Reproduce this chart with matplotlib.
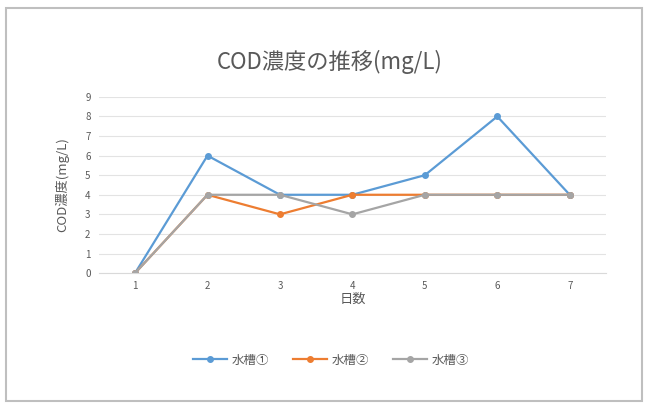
import matplotlib.pyplot as plt
from matplotlib.patches import Rectangle

plt.rcParams['font.family'] = ['Noto Sans CJK JP', 'DejaVu Sans']

days = [1, 2, 3, 4, 5, 6, 7]
tank1 = [0, 6, 4, 4, 5, 8, 4]
tank2 = [0, 4, 3, 4, 4, 4, 4]
tank3 = [0, 4, 4, 3, 4, 4, 4]
series_names = ['水槽①', '水槽②', '水槽③']
colors = ['#5B9BD5', '#ED7D31', '#A5A5A5']

text_gray = '#595959'

fig = plt.figure(figsize=(6.46, 4.07), dpi=100)
ax = fig.add_axes([0.153, 0.329, 0.785, 0.433])

# outer chart frame
frame = Rectangle((0.010, 0.015), 0.984, 0.965, transform=fig.transFigure,
                  fill=False, edgecolor='#BFBFBF', linewidth=1.5)
fig.patches.append(frame)

for vals, name, c in zip([tank1, tank2, tank3], series_names, colors):
    ax.plot(days, vals, color=c, linewidth=1.6, marker='o', markersize=4,
            label=name)

ax.set_xlim(0.5, 7.5)
ax.set_ylim(0, 9)
ax.set_xticks(days)
ax.set_yticks(range(0, 10))
ax.grid(axis='y', color='#E3E3E3', linewidth=0.8)
ax.set_axisbelow(True)
for side in ['top', 'right', 'left']:
    ax.spines[side].set_visible(False)
ax.spines['bottom'].set_color('#D9D9D9')
ax.tick_params(length=0, labelsize=7, colors=text_gray, pad=6)

ax.set_xlabel('日数', fontsize=9.5, color=text_gray, labelpad=1)
ax.set_ylabel('COD濃度(mg/L)', fontsize=9.5, color=text_gray, labelpad=11)

fig.text(0.511, 0.848, 'COD濃度の推移(mg/L)', ha='center', va='center',
         fontsize=16, color=text_gray)

fig.legend(loc='center', bbox_to_anchor=(0.513, 0.115), ncol=3,
           frameon=False, fontsize=9, labelcolor=text_gray,
           handlelength=2.7, handletextpad=0.4, columnspacing=1.9)

fig.savefig('out.png', dpi=100)
